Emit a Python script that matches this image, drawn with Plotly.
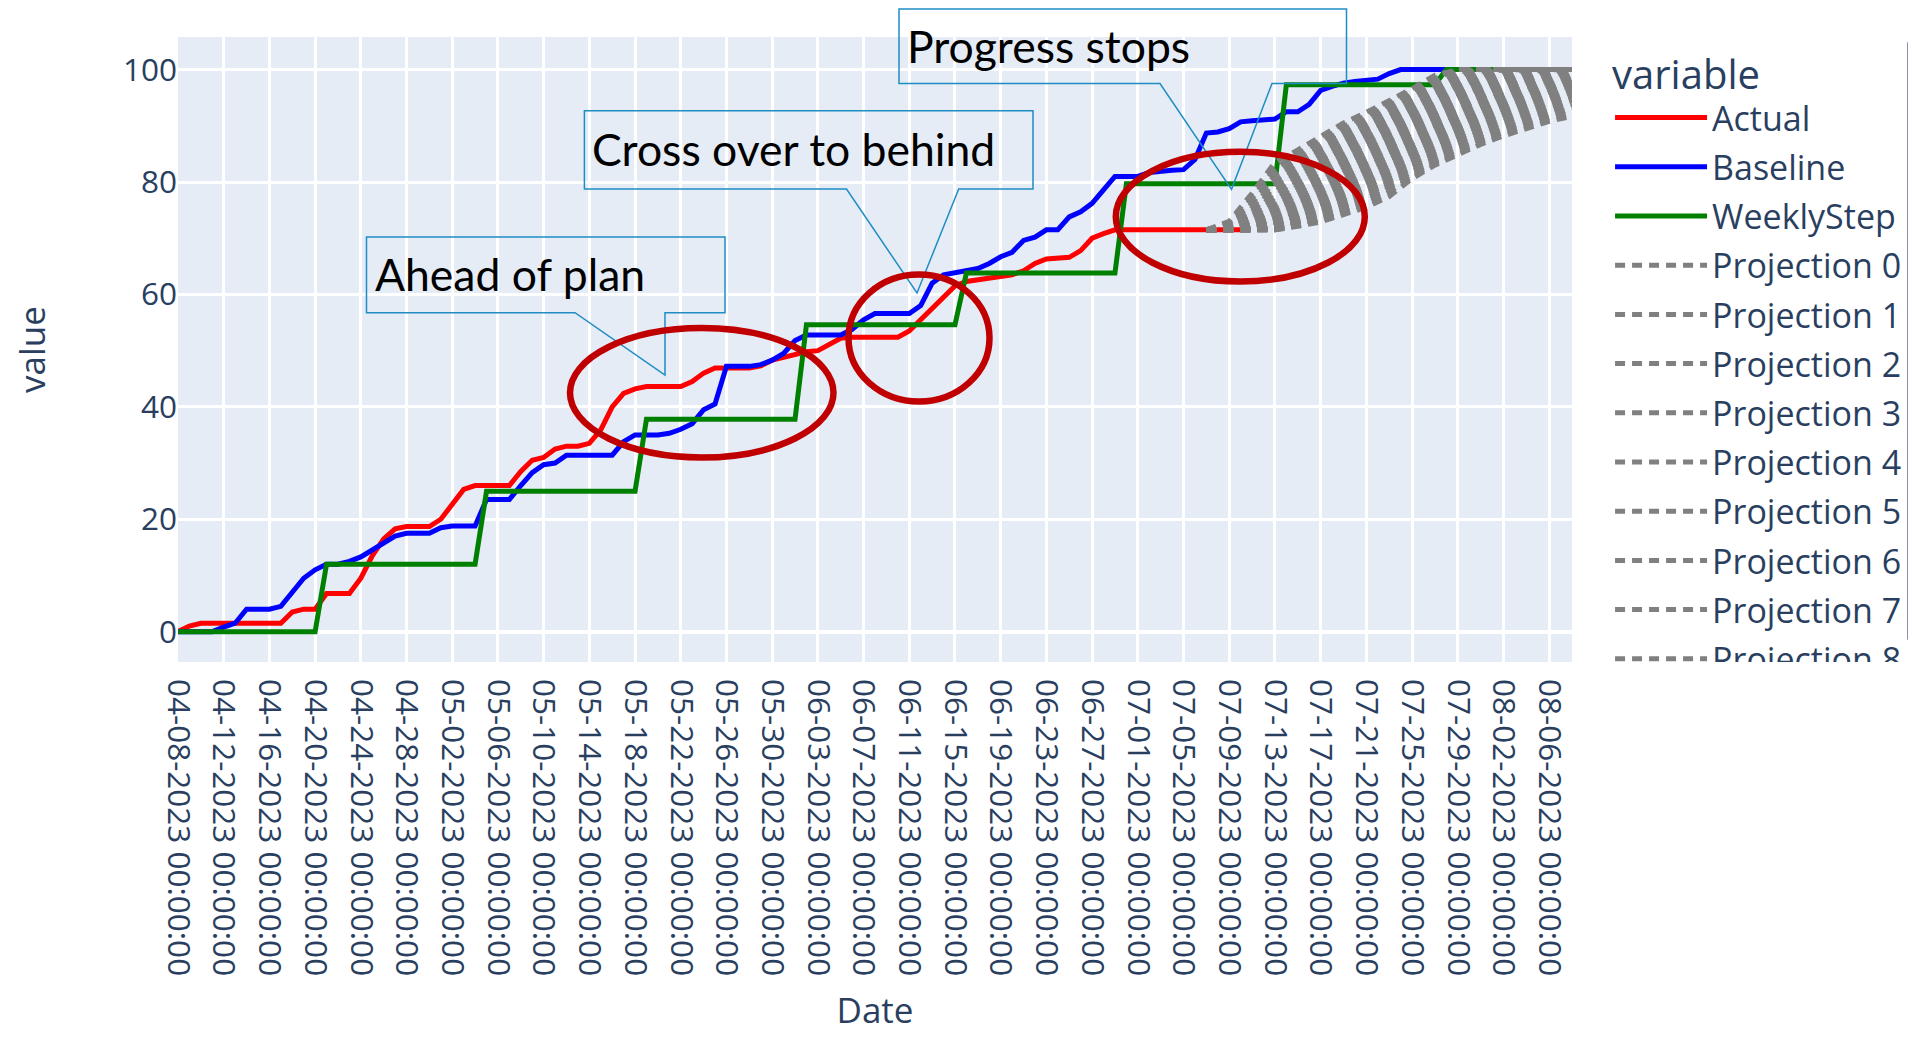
import pandas as pd
import plotly.graph_objects as go

# one category per day, labelled the way pandas prints them
dates = (
    pd.date_range("2023-04-08", "2023-08-08", freq="D")
    .strftime("%m-%d-%Y %H:%M:%S")
    .tolist()
)

actual = [
    0, 1.0, 1.5, 1.5, 1.5, 1.5, 1.5, 1.5, 1.5, 1.5,
    3.5, 4.0, 4.0, 6.8, 6.8, 6.8, 9.5, 13.5, 16.5, 18.3,
    18.7, 18.7, 18.7, 20.0, 22.5, 25.3, 26.0, 26.0, 26.0, 26.0,
    28.5, 30.5, 31.0, 32.5, 33.0, 33.0, 33.5, 35.9, 40.0, 42.4,
    43.2, 43.6, 43.6, 43.6, 43.6, 44.5, 46.0, 46.9, 46.9, 46.9,
    46.9, 47.3, 48.3, 48.8, 49.3, 49.8, 50.0, 51.0, 52.2, 52.4,
    52.4, 52.4, 52.4, 52.4, 53.5, 55.5, 57.5, 59.5, 61.5, 62.3,
    62.6, 63.0, 63.3, 63.5, 64.2, 65.5, 66.3, 66.4, 66.6, 67.8,
    70.0, 70.8, 71.5, 71.5, 71.5, 71.5, 71.5, 71.5, 71.5, 71.5,
    71.5, 71.5, 71.5, 71.5,
]

baseline = [
    0, 0, 0, 0, 0.8, 1.5, 4.0, 4.0, 4.0, 4.5,
    7.0, 9.5, 11.0, 12.0, 12.0, 12.5, 13.3, 14.5, 15.8, 17.0,
    17.5, 17.5, 17.5, 18.5, 18.8, 18.8, 18.8, 23.5, 23.5, 23.5,
    26.0, 28.3, 29.7, 30.0, 31.4, 31.4, 31.4, 31.4, 31.4, 33.8,
    35.0, 35.0, 35.0, 35.3, 36.0, 37.0, 39.5, 40.5, 47.2, 47.2,
    47.2, 47.5, 48.3, 49.5, 51.8, 52.8, 52.8, 52.8, 52.8, 53.8,
    55.5, 56.6, 56.6, 56.6, 56.6, 58.0, 62.0, 63.5, 63.8, 64.2,
    64.6, 65.5, 66.7, 67.5, 69.6, 70.2, 71.5, 71.5, 73.8, 74.7,
    76.2, 78.6, 81.0, 81.0, 81.0, 81.7, 82.0, 82.1, 82.2, 84.0,
    88.7, 88.9, 89.5, 90.7, 90.9, 91.0, 91.2, 92.5, 92.5, 93.8,
    96.3, 97.0, 97.6, 97.9, 98.1, 98.3, 99.3, 100, 100, 100,
    100, 100, 100, 100, 100, 100, 100, 100, 100, 100,
    100, 100, 100,
]

weekly_step = [
    0, 0, 0, 0, 0, 0, 0, 0, 0, 0, 0, 0, 0,
    12, 12, 12, 12, 12, 12, 12, 12, 12, 12, 12, 12, 12, 12,
    25, 25, 25, 25, 25, 25, 25, 25, 25, 25, 25, 25, 25, 25,
    37.8, 37.8, 37.8, 37.8, 37.8, 37.8, 37.8, 37.8, 37.8, 37.8, 37.8, 37.8, 37.8, 37.8,
    54.6, 54.6, 54.6, 54.6, 54.6, 54.6, 54.6, 54.6, 54.6, 54.6, 54.6, 54.6, 54.6, 54.6,
    63.8, 63.8, 63.8, 63.8, 63.8, 63.8, 63.8, 63.8, 63.8, 63.8, 63.8, 63.8, 63.8, 63.8,
    79.7, 79.7, 79.7, 79.7, 79.7, 79.7, 79.7, 79.7, 79.7, 79.7, 79.7, 79.7, 79.7, 79.7,
    97.3, 97.3, 97.3, 97.3, 97.3, 97.3, 97.3, 97.3, 97.3, 97.3, 97.3, 97.3, 97.3, 97.3,
    100, 100, 100, 100, 100, 100, 100, 100, 100, 100, 100, 100,
]

# projections are read every second day from 07-08 on
proj_dates = dates[90::2]
projections = [
    [71.5, 73.0, 78.0, 83.5, 85.7, 88.0, 90.5, 92.4, 94.5, 96.6, 99.0, 100, 100, 100, 100, 100, 100],
    [71.5, 72.7, 77.1, 82.4, 85.0, 87.4, 89.9, 91.8, 94.0, 96.0, 98.4, 100, 100, 100, 100, 100, 100],
    [71.5, 72.4, 76.2, 81.2, 84.2, 86.8, 89.3, 91.2, 93.6, 95.5, 97.8, 99.6, 100, 100, 100, 100, 100],
    [71.5, 72.1, 75.4, 80.2, 83.3, 86.2, 88.6, 90.6, 93.0, 95.1, 97.2, 99.2, 100, 100, 100, 100, 100],
    [71.5, 71.9, 74.6, 79.3, 82.5, 85.6, 88.0, 90.1, 92.3, 94.8, 96.7, 98.8, 100, 100, 100, 100, 100],
    [71.5, 71.7, 74.0, 78.2, 81.8, 84.8, 87.4, 89.6, 91.6, 94.1, 96.2, 98.2, 99.8, 100, 100, 100, 100],
    [71.5, 71.6, 73.5, 77.2, 81.0, 84.0, 86.9, 89.2, 91.0, 93.5, 95.8, 97.6, 99.5, 100, 100, 100, 100],
    [71.5, 71.5, 73.1, 76.4, 80.2, 83.4, 86.2, 88.5, 90.6, 93.0, 95.2, 97.2, 99.0, 100, 100, 100, 100],
    [71.5, 71.5, 72.8, 75.6, 79.4, 82.8, 85.5, 87.8, 90.2, 92.4, 94.6, 96.8, 98.5, 100, 100, 100, 100],
    [71.5, 71.5, 72.5, 75.1, 78.7, 82.0, 84.7, 87.2, 89.6, 91.8, 94.1, 96.2, 98.0, 99.6, 100, 100, 100],
    [71.5, 71.5, 72.3, 74.6, 78.0, 81.2, 84.0, 86.7, 89.0, 91.2, 93.7, 95.6, 97.5, 99.2, 100, 100, 100],
    [71.5, 71.5, 72.1, 74.2, 77.4, 80.6, 83.5, 86.1, 88.5, 90.7, 93.1, 95.2, 97.0, 98.7, 99.9, 100, 100],
    [71.5, 71.5, 72.0, 73.8, 76.8, 80.0, 82.9, 85.5, 88.0, 90.3, 92.5, 94.8, 96.6, 98.2, 99.6, 100, 100],
    [71.5, 71.5, 71.9, 73.5, 76.3, 79.3, 82.3, 84.9, 87.4, 89.8, 92.0, 94.2, 96.1, 97.8, 99.3, 100, 100],
    [71.5, 71.5, 71.8, 73.2, 75.9, 78.6, 81.7, 84.2, 86.8, 89.4, 91.6, 93.6, 95.5, 97.4, 98.9, 100, 100],
    [71.5, 71.5, 71.7, 73.0, 75.4, 78.0, 81.0, 83.6, 86.3, 88.8, 91.0, 93.1, 95.0, 96.9, 98.4, 99.7, 100],
    [71.5, 71.5, 71.6, 72.8, 75.0, 77.5, 80.3, 83.0, 85.8, 88.2, 90.5, 92.7, 94.6, 96.4, 98.0, 99.3, 100],
    [71.5, 71.5, 71.5, 72.6, 74.7, 77.0, 79.6, 82.4, 85.2, 87.6, 90.0, 92.1, 94.0, 95.9, 97.5, 98.8, 99.8],
    [71.5, 71.5, 71.5, 72.5, 74.4, 76.6, 79.0, 81.8, 84.6, 87.0, 89.5, 91.6, 93.5, 95.4, 96.9, 98.3, 99.5],
    [71.5, 71.5, 71.5, 72.3, 74.1, 76.2, 78.5, 81.2, 84.0, 86.4, 88.9, 91.0, 93.0, 94.8, 96.3, 97.7, 99.0],
    [71.5, 71.5, 71.5, 72.2, 73.8, 75.8, 78.0, 80.6, 83.3, 85.9, 88.3, 90.4, 92.4, 94.2, 95.8, 97.2, 98.4],
    [71.5, 71.5, 71.5, 72.1, 73.6, 75.5, 77.6, 80.0, 82.7, 85.3, 87.7, 89.8, 91.8, 93.6, 95.2, 96.6, 97.8],
    [71.5, 71.5, 71.5, 72.0, 73.4, 75.2, 77.2, 79.5, 82.2, 84.8, 87.2, 89.3, 91.3, 93.1, 94.6, 96.0, 97.2],
    [71.5, 71.5, 71.5, 71.9, 73.2, 74.9, 76.8, 79.0, 81.6, 84.2, 86.6, 88.7, 90.7, 92.5, 94.0, 95.4, 96.6],
    [71.5, 71.5, 71.5, 71.8, 73.0, 74.6, 76.4, 78.5, 81.0, 83.6, 86.0, 88.2, 90.2, 91.9, 93.4, 94.8, 96.0],
    [71.5, 71.5, 71.5, 71.7, 72.8, 74.3, 76.0, 78.0, 80.5, 83.0, 85.4, 87.6, 89.6, 91.3, 92.8, 94.1, 95.3],
    [71.5, 71.5, 71.5, 71.6, 72.7, 74.0, 75.6, 77.5, 80.0, 82.5, 84.9, 87.0, 89.0, 90.7, 92.2, 93.5, 94.6],
    [71.5, 71.5, 71.5, 71.5, 72.5, 73.7, 75.2, 77.0, 79.5, 82.0, 84.3, 86.4, 88.4, 90.0, 91.5, 92.7, 93.8],
    [71.5, 71.5, 71.5, 71.5, 72.4, 73.4, 74.8, 76.5, 79.0, 81.4, 83.8, 85.8, 87.8, 89.4, 90.8, 92.0, 93.0],
    [71.5, 71.5, 71.5, 71.5, 72.2, 73.1, 74.5, 76.0, 78.2, 81.0, 83.4, 85.3, 87.2, 88.8, 90.2, 91.4, 92.3],
    [71.5, 71.5, 71.5, 71.5, 72.1, 72.9, 74.2, 75.5, 77.4, 80.6, 83.0, 84.9, 86.7, 88.2, 89.6, 90.8, 91.7],
]
# only the first entries fit in the legend before it is cut at the plot bottom
LEGEND_PROJECTIONS = 9

# the page body keeps an 8px margin around the autosized figure
PAGE_OFFSET = 8
FIG_W, FIG_H = 1916 - 2 * PAGE_OFFSET, 1041 - 2 * PAGE_OFFSET
# plot area in page pixels, used to place the hand drawn callouts
PLOT_L, PLOT_R, PLOT_T, PLOT_B = 178, 1572, 37, 662


def to_paper(x, y):
    return (x - PLOT_L) / (PLOT_R - PLOT_L), (PLOT_B - y) / (PLOT_B - PLOT_T)


callouts = [
    dict(text="Ahead of plan", box=(366.5, 237, 725, 312.7), tail=(575, 665, 375, 665)),
    dict(text="Cross over to behind", box=(584.4, 110.7, 1033, 189), tail=(846.5, 917, 293, 958.7)),
    dict(text="Progress stops", box=(899, 9.0, 1346.5, 83.5), tail=(1160, 1231.5, 189.3, 1272)),
]
ellipses = [
    (570, 328, 833.5, 457.5),
    (848.5, 274.5, 989.5, 401.5),
    (1115.8, 151.8, 1364.8, 281.5),
]

fig = go.Figure()
for name, values, color in [
    ("Actual", actual, "red"),
    ("Baseline", baseline, "blue"),
    ("WeeklyStep", weekly_step, "green"),
]:
    fig.add_trace(
        go.Scatter(
            x=dates[: len(values)],
            y=values,
            name=name,
            mode="lines",
            line=dict(color=color, width=5),
            legendgroup=name,
        )
    )

for i, values in enumerate(projections):
    fig.add_trace(
        go.Scatter(
            x=proj_dates,
            y=values,
            name=f"Projection {i}",
            mode="lines",
            line=dict(color="gray", width=5, dash="10px,7px"),
            legendgroup=f"Projection {i}",
            showlegend=i < LEGEND_PROJECTIONS,
        )
    )

shapes = []
annotations = []
for c in callouts:
    x0, y0, x1, y1 = c["box"]
    xa, tx, ty, xb = c["tail"]
    pts = [(x0, y0), (x1, y0), (x1, y1), (xb, y1), (tx, ty), (xa, y1), (x0, y1)]
    path = "M" + " L".join(f"{px:.5f},{py:.5f}" for px, py in (to_paper(*p) for p in pts)) + " Z"
    shapes.append(
        dict(type="path", path=path, xref="paper", yref="paper",
             line=dict(color="#1f8dc4", width=1.5), fillcolor="rgba(0,0,0,0)")
    )
    ax, ay = to_paper(x0 + 6, (y0 + y1) / 2 - 1)
    annotations.append(
        dict(text=c["text"], x=ax, y=ay, xref="paper", yref="paper",
             xanchor="left", yanchor="middle", showarrow=False,
             font=dict(family="Lato", size=44.5, color="black"))
    )

for e in ellipses:
    ex0, ey0 = to_paper(e[0], e[3])
    ex1, ey1 = to_paper(e[2], e[1])
    shapes.append(
        dict(type="circle", xref="paper", yref="paper", x0=ex0, y0=ey0, x1=ex1, y1=ey1,
             line=dict(color="#c00000", width=6.5))
    )

fig.update_layout(
    template="plotly",
    font=dict(family='"Open Sans", verdana, arial, sans-serif', size=31.5, color="#2a3f5f"),
    margin=dict(
        l=PLOT_L - PAGE_OFFSET,
        r=FIG_W + PAGE_OFFSET - PLOT_R,
        t=PLOT_T - PAGE_OFFSET,
        b=FIG_H + PAGE_OFFSET - PLOT_B,
        autoexpand=False,
    ),
    xaxis=dict(
        type="category",
        categoryorder="array",
        categoryarray=dates,
        range=[0, len(dates) - 1],
        tickmode="linear",
        tick0=0,
        dtick=4,
        tickangle=90,
        ticklabelstandoff=16,
        gridwidth=2.5,
        automargin=False,
        title=dict(text="Date", font=dict(size=35), standoff=40),
    ),
    yaxis=dict(
        range=[-5.4, 105.8],
        dtick=20,
        gridwidth=2.5,
        zerolinewidth=4,
        automargin=False,
        title=dict(text="value", font=dict(size=35), standoff=67),
    ),
    legend=dict(
        x=1.0273,
        title=dict(text="variable", font=dict(size=40)),
        font=dict(size=34),
        tracegroupgap=2,
        itemwidth=92,
    ),
    shapes=shapes,
    annotations=annotations,
)

fig.write_html("out.html")
